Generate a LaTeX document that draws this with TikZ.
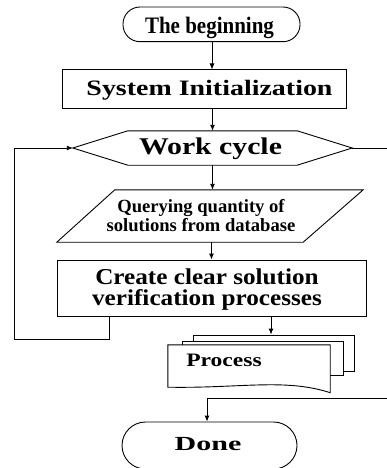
\documentclass[tikz,border=0pt]{standalone}
\usepackage{fontspec}
\setmainfont{Liberation Serif}
\usetikzlibrary{arrows.meta}

% bold label text: #1 horizontal stretch, #2 font size, #3 text
\newcommand\flowtext[3]{\scalebox{#1}[1]{\fontsize{#2}{#2}\selectfont\bfseries #3}}
% two-line bold label: #1 stretch, #2 font size, #3 line distance, #4 extra gap, #5/#6 lines
\newcommand\flowtwo[6]{\scalebox{#1}[1]{\fontsize{#2}{#3}\selectfont\bfseries
  \begin{tabular}[t]{@{}c@{}}#5\\[#4]#6\end{tabular}}}

\tikzset{
  line/.style={line width=0.9pt, draw=black},
  arr/.style={line, -{Latex[length=6pt,width=5pt]}},
  box/.style={line, rectangle, inner sep=0pt, fill=white},
  frame/.style={rectangle, inner sep=0pt},
  lbl/.style={anchor=base, inner sep=0pt},
}

\begin{document}
\begin{tikzpicture}[x=1pt,y=-1pt]
\useasboundingbox (0,0) rectangle (387,468);

% ---- shapes ----
\node[box, rounded corners=17pt, minimum width=177pt, minimum height=34.7pt] (begin) at (211.5,24.35) {};
\node[box, minimum width=284pt, minimum height=38.7pt] (init) at (204,89.3) {};

% work cycle: hexagon
\node[frame, minimum width=279pt, minimum height=34pt] (wc) at (212.5,148) {};
\draw[line] (wc.west) -- ([xshift=55pt]wc.north west) -- ([xshift=-55pt]wc.north east)
  -- (wc.east) -- ([xshift=-55pt]wc.south east) -- ([xshift=55pt]wc.south west) -- cycle;

% database query: parallelogram
\node[frame, minimum width=306pt, minimum height=52pt] (query) at (210,216) {};
\draw[line] (query.south west) -- ([xshift=58pt]query.north west) -- (query.north east)
  -- ([xshift=-60pt]query.south east) -- cycle;

\node[box, minimum width=309pt, minimum height=56pt] (create) at (211.5,288) {};

% stacked process documents
\node[box, minimum width=161pt, minimum height=36.7pt] (sheetc) at (273.5,353.35) {};
\node[box, minimum width=161pt, minimum height=34pt] (sheetb) at (262.5,358) {};
\node[frame, minimum width=162pt, minimum height=42pt] (sheeta) at (249,366) {};
\draw[line, fill=white] (sheeta.north west) -- (sheeta.north east) -- ([yshift=-5.5pt]sheeta.south east)
  .. controls (285,378) and (240,388.5) .. (sheeta.south west) -- cycle;

\node[box, rounded corners=23.5pt, minimum width=175pt, minimum height=47pt] (done) at (209.5,445.5) {};

% ---- labels ----
\node[lbl] (tbegin) at (209.5,33.3) {\flowtext{0.89}{23.6}{The beginning}};
\node[lbl] (tinit) at (209.5,95.3) {\flowtext{1.27}{22}{System Initialization}};
\node[lbl] (twc) at (210.5,154) {\flowtext{1.24}{24}{Work cycle}};
\node[lbl] (tquery) at (201,212) {\flowtwo{1.0}{18.6}{19.3}{0pt}{Querying quantity of}{solutions from database}};
\node[lbl] (tcreate) at (207,284.7) {\flowtwo{1.11}{22.7}{20}{-1.4pt}{Create clear solution}{verification processes}};
\node[lbl] (tproc) at (224,366.7) {\flowtext{1.24}{19}{Process}};
\node[lbl] (tdone) at (208,450) {\flowtext{1.5}{20}{Done}};

% ---- connectors ----
\coordinate (loopL) at (14,339);
\coordinate (exitR) at (392,148);
\coordinate (entryR) at (392,398.3);

\draw[arr] (begin.south -| 212,0) -- (init.north -| 212,0);
\draw[arr] (wc.north |- init.south) -- (wc.north);
\draw[arr] (wc.south) -- (wc.south |- query.north);
\draw[arr] (create.north |- query.south) -- (create.north);
\draw[arr] (create.south -| 271,0) -- (sheetc.north -| 271,0);
\draw[arr] ([xshift=-102.5pt]create.south) |- (loopL) |- (wc.west);
\draw[line] (wc.east) -- (exitR);
\draw[arr] (entryR) -| ([xshift=-2.5pt]done.north);
\end{tikzpicture}
\end{document}
